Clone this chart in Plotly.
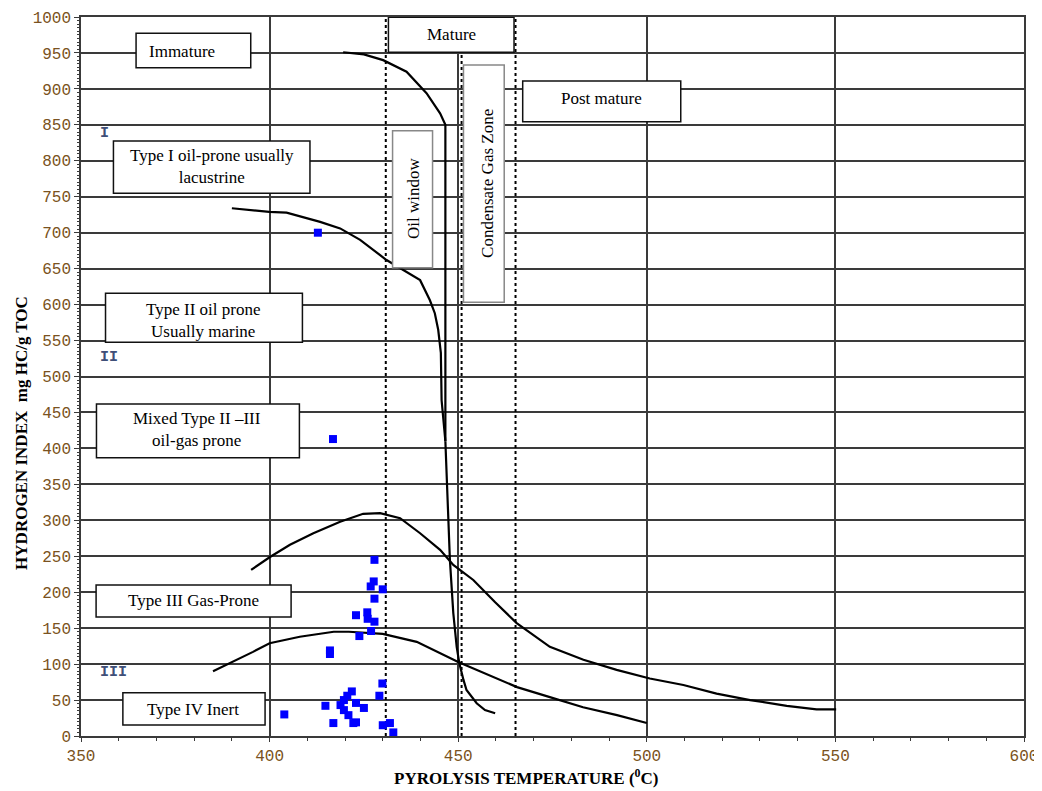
import plotly.graph_objects as go

# ---------------- data ----------------
# Samples (Tmax, HI)
sample_tmax = [412.8, 416.8, 427.8, 427.6, 426.8, 430.0, 427.8, 422.9, 425.9, 426.0,
               427.8, 426.9, 423.8, 416.0, 416.0, 429.9, 429.1, 403.9, 414.8, 421.8,
               420.6, 419.7, 418.8, 419.7, 422.9, 425.0, 420.9, 416.9, 422.2, 422.9,
               430.0, 431.9, 432.8]
sample_hi = [700, 413, 245, 215, 208, 204, 191, 168, 172, 163,
             159, 146, 139, 119, 114, 73, 56, 30, 42, 62,
             56, 50, 43, 36, 46, 39, 29, 18, 18, 19,
             15, 18, 5]

# Type I boundary (joins maturation trunk)
typeI_x = [419.5, 425.0, 430.1, 436.3, 441.6, 445.2, 446.6, 446.6]
typeI_y = [951, 948, 940, 924, 894, 866, 850, 410]

# Type II boundary
typeII_x = [390.0, 399.9, 404.5, 413.4, 418.7, 424.0, 431.0, 435.4, 439.9, 442.5,
            443.8, 444.7, 445.4, 445.6, 445.9, 446.6]
typeII_y = [734, 729, 728, 715, 706, 690, 662, 648, 634, 606,
            588, 565, 533, 467, 449, 410]

# Maturation trunk below the merge
trunk_x = [446.6, 446.9, 447.4, 447.8, 448.7, 449.6, 450.3, 451.4, 452.2, 454.9, 457.1, 459.8]
trunk_y = [410, 356, 300, 245, 171, 124, 101, 78, 64, 45.5, 36, 31.6]

# Type III upper boundary
typeIIIu_x = [395.1, 400.1, 405.4, 411.6, 418.7, 424.8, 429.3, 434.6, 439.9, 445.2,
              448.7, 454.0, 459.8, 465.5, 474.3, 483.2, 492.0, 500.8, 509.7, 518.5,
              527.4, 537.1, 545.0, 550.2]
typeIIIu_y = [231, 249, 266, 282, 298, 309, 310, 303, 282, 259,
              238, 217, 186, 157, 124, 106, 92, 80, 71, 59,
              50, 42, 37, 37]

# Type III lower boundary
typeIIIl_x = [385.0, 390.3, 395.6, 400.0, 408.0, 417.0, 421.0, 430.0, 439.0, 450.0,
              456.6, 465.6, 474.3, 483.1, 492.1, 500.0]
typeIIIl_y = [90, 103, 117, 129, 138, 145, 145, 142, 131, 103,
              88, 68, 54, 40, 29, 18]

# Maturity zone limits (dotted)
zone_lines_x = [430.8, 450.9, 465.2]

# Axis ticks
x_ticks = [350, 400, 450, 500, 550, 600]
y_ticks = list(range(0, 1001, 50))

# Text boxes: (x0, x1, y0, y1, text, tx, ty, angle, border)
boxes = [
    (364.6, 395.0, 929.5, 977.3, "Immature", 376.7, 952, 0, "#111"),
    (431.5, 464.8, 951.0, 999.6, "Mature", 448.1, 976, 0, "#111"),
    (467.1, 509.0, 854.4, 911.0, "Post mature", 488.0, 887, 0, "#111"),
    (432.6, 443.2, 651.3, 841.9, "Oil window", 438.3, 747, -90, "#888"),
    (451.4, 462.2, 603.2, 933.2, "Condensate Gas Zone", 457.6, 769, -90, "#888"),
    (358.6, 410.7, 754.8, 827.5, "Type I oil-prone usually<br>lacustrine", 384.7, 792, 0, "#111"),
    (356.5, 408.7, 547.6, 615.7, "Type II oil prone<br>Usually marine", 382.4, 578, 0, "#111"),
    (354.1, 407.9, 387.1, 461.7, "Mixed Type II \u2013III<br>oil-gas prone", 380.7, 426, 0, "#111"),
    (354.0, 405.7, 165.5, 210.0, "Type III Gas-Prone", 379.7, 188, 0, "#111"),
    (361.1, 398.8, 15.3, 60.2, "Type IV Inert", 379.8, 37, 0, "#111"),
]

roman = [("I", 356.2, 838), ("II", 357.4, 527), ("III", 358.6, 89)]

# ---------------- figure ----------------
fig = go.Figure()

line_style = dict(color="black", width=2.2)
for xs, ys in [(typeI_x, typeI_y), (typeII_x, typeII_y), (trunk_x, trunk_y),
               (typeIIIu_x, typeIIIu_y), (typeIIIl_x, typeIIIl_y)]:
    fig.add_trace(go.Scatter(x=xs, y=ys, mode="lines", line=line_style,
                             hoverinfo="skip", showlegend=False))

for zx in zone_lines_x:
    fig.add_trace(go.Scatter(x=[zx, zx], y=[0, 1000], mode="lines",
                             line=dict(color="black", width=2, dash="dot"),
                             hoverinfo="skip", showlegend=False))

fig.add_trace(go.Scatter(x=sample_tmax, y=sample_hi, mode="markers",
                         marker=dict(symbol="square", size=8, color="#0000ff",
                                     line=dict(width=0)),
                         showlegend=False))

shapes = []
annotations = []
serif = "Liberation Serif"
for x0, x1, y0, y1, text, tx, ty, ang, bc in boxes:
    shapes.append(dict(type="rect", xref="x", yref="y", x0=x0, x1=x1, y0=y0, y1=y1,
                       fillcolor="white", line=dict(color=bc, width=1.5), layer="above"))
    annotations.append(dict(x=tx, y=ty, xref="x", yref="y", text=text, showarrow=False,
                            textangle=ang, font=dict(family=serif, size=17, color="black"),
                            align="center"))

tick_color = "#7a5220"
mono = "Liberation Mono"
for t, rx, ry in roman:
    annotations.append(dict(x=rx, y=ry, xref="x", yref="y", text="<b>" + t + "</b>",
                            showarrow=False,
                            font=dict(family=mono, size=15, color="#3f4f78")))

annotations.append(dict(x=0.472, y=-0.057, xref="paper", yref="paper",
                        text="<b>PYROLYSIS TEMPERATURE (<sup>0</sup>C)</b>",
                        showarrow=False, font=dict(family=serif, size=17, color="black"),
                        yanchor="middle"))
annotations.append(dict(x=-0.063, y=0.421, xref="paper", yref="paper",
                        text="<b>HYDROGEN INDEX  mg HC/g TOC</b>", textangle=-90,
                        showarrow=False, font=dict(family=serif, size=17, color="black"),
                        xanchor="center"))

grid_color = "#3a3a3a"
# page body adds an 8px margin; plot area is placed at window pixels x 81-1024, y 17-736
fig.update_layout(
    width=1042, height=783,
    margin=dict(l=73, r=26, t=9, b=55, autoexpand=False),
    paper_bgcolor="white", plot_bgcolor="white",
    shapes=shapes, annotations=annotations,
    xaxis=dict(range=[350, 600], tickvals=x_ticks, ticktext=[str(v) for v in x_ticks],
               automargin=False, ticklabeloverflow="allow",
               showgrid=True, gridcolor=grid_color, gridwidth=1.5,
               showline=True, linecolor=grid_color, linewidth=1.5, mirror=True,
               ticks="outside", ticklen=4, tickcolor=grid_color, zeroline=False,
               tickfont=dict(family=mono, size=16, color=tick_color),
               minor=dict(dtick=10, tick0=350, ticks="outside", ticklen=3,
                          tickcolor=grid_color, showgrid=False)),
    yaxis=dict(range=[0, 1000], tickvals=y_ticks, ticktext=[str(v) for v in y_ticks],
               automargin=False, ticklabeloverflow="allow",
               showgrid=True, gridcolor=grid_color, gridwidth=1.5,
               showline=True, linecolor=grid_color, linewidth=1.5, mirror=True,
               ticks="outside", ticklen=5, tickcolor=grid_color, zeroline=False,
               tickfont=dict(family=mono, size=16, color=tick_color),
               minor=dict(dtick=5, tick0=0, ticks="outside", ticklen=2,
                          tickcolor=grid_color, showgrid=False)),
)

fig.write_html("out.html")
